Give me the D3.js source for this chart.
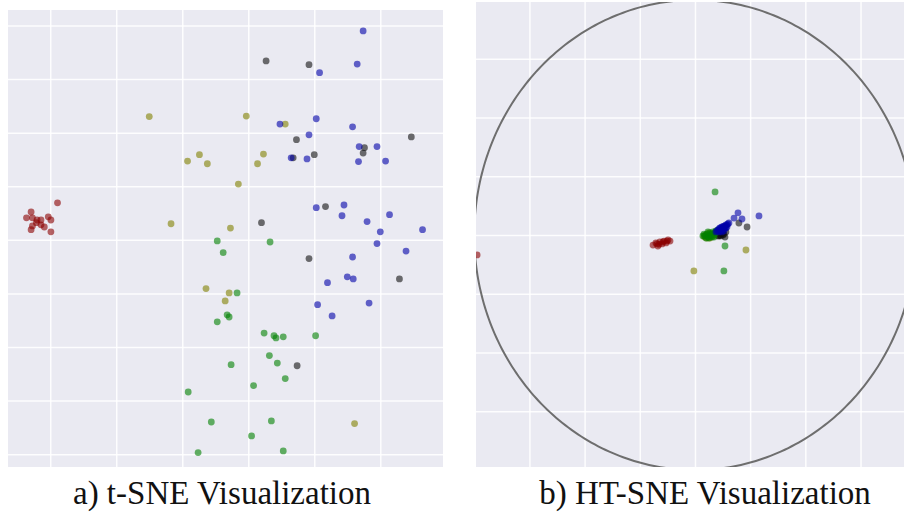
<!DOCTYPE html>
<html>
<head>
<meta charset="utf-8">
<script src="https://cdn.jsdelivr.net/npm/d3@7"></script>
<style>
  html, body { margin: 0; padding: 0; background: #ffffff; }
  svg { display: block; }
</style>
</head>
<body>
<svg id="chart" width="904" height="514"></svg>
<script>
// ---- t-SNE embedding (left panel), one array per class ----
const tsneRed = [
  [-28.9, 6.9], [-32.9, 5.2], [-33.6, 4.1], [-32.7, 4.1], [-32.0, 3.7], [-31.4, 3.7],
  [-30.3, 4.3], [-29.9, 3.7], [-32.7, 2.6], [-31.4, 2.8], [-30.9, 2.4], [-29.9, 1.5],
  [-32.9, 1.9], [-32.1, 3.2]
];
const tsneOlive = [
  [-15.0, 23.0], [-9.2, 14.7], [-7.4, 15.9], [-6.2, 14.2], [-11.7, 3.0], [-0.3, 23.1],
  [5.6, 21.6], [2.3, 16.0], [1.4, 14.2], [-1.5, 10.4], [-2.7, 2.2], [-6.4, -9.1],
  [-2.9, -9.9], [-3.5, -11.4], [16.1, -34.3]
];
const tsneGreen = [
  [-4.7, -0.2], [-3.8, -2.4], [3.3, -0.4], [-1.7, -9.9], [-3.2, -14.0], [-2.9, -14.4],
  [-4.7, -15.3], [2.4, -17.4], [3.9, -17.9], [4.2, -18.3], [5.3, -18.1], [10.2, -17.9],
  [3.2, -21.6], [4.4, -23.0], [-2.6, -23.3], [5.6, -25.9], [0.8, -27.2], [-9.1, -28.4],
  [-5.6, -34.0], [3.5, -33.8], [0.5, -36.6], [-7.6, -39.7], [5.3, -39.4]
];
const tsneBlue = [
  [17.4, 39.0], [10.8, 31.2], [16.5, 32.8], [4.8, 21.6], [10.3, 22.6], [15.8, 21.1],
  [9.2, 19.6], [16.8, 17.4], [19.5, 17.4], [6.5, 15.3], [8.9, 15.1], [16.7, 14.6],
  [20.8, 14.7], [10.3, 6.0], [14.5, 6.5], [14.2, 4.5], [18.0, 3.4], [21.4, 4.7],
  [20.0, 1.5], [26.4, 1.9], [19.5, -0.7], [23.9, -2.1], [15.8, -3.2], [15.0, -6.9],
  [15.9, -7.3], [12.0, -8.0], [10.5, -12.1], [18.3, -11.8], [12.7, -14.2]
];
const tsneGray = [
  [2.7, 33.4], [9.2, 32.7], [24.7, 19.2], [7.3, 18.7], [17.6, 17.2], [17.4, 16.2],
  [6.8, 15.3], [10.0, 15.9], [11.7, 6.2], [2.0, 3.2], [9.2, -3.5], [22.9, -7.3],
  [7.4, -23.5]
];

// ---- HT-SNE embedding in the Poincaré disk (right panel) ----
const htRed = [
  [-0.190, -0.043], [-0.177, -0.034], [-0.168, -0.047], [-0.159, -0.030], [-0.149, -0.038],
  [-0.140, -0.026], [-0.131, -0.034], [-0.122, -0.021], [-0.113, -0.026], [-0.172, -0.038],
  [-0.145, -0.030], [-0.127, -0.026], [-0.163, -0.040], [-0.987, -0.085]
];
const htOlive = [
  [0.231, -0.064], [-0.005, -0.153], [0.050, 0.000], [0.059, -0.004], [0.068, -0.009],
  [0.072, 0.004], [0.082, -0.004], [0.045, -0.009], [0.063, 0.009], [0.077, 0.000],
  [0.054, -0.013], [0.086, 0.004], [0.041, -0.004], [0.068, -0.013], [0.091, 0.009]
];
const htGreen = [
  [0.091, 0.183], [0.136, -0.047], [0.131, -0.153],
  [0.045, -0.004], [0.054, 0.004], [0.059, -0.009], [0.068, 0.009], [0.072, -0.004],
  [0.077, 0.004], [0.082, 0.013], [0.086, 0.000], [0.095, 0.017], [0.063, -0.013],
  [0.050, -0.013], [0.041, 0.004], [0.091, 0.009], [0.100, 0.013], [0.068, 0.000],
  [0.059, 0.013], [0.077, -0.009], [0.036, -0.004], [0.104, 0.021], [0.086, -0.009]
];
const htBlue = [
  [0.195, 0.094], [0.177, 0.072], [0.213, 0.068], [0.290, 0.081], [0.154, 0.051],
  [0.100, 0.017], [0.109, 0.026], [0.113, 0.017], [0.118, 0.030], [0.122, 0.021],
  [0.127, 0.034], [0.131, 0.026], [0.136, 0.038], [0.140, 0.030], [0.145, 0.043],
  [0.104, 0.021], [0.113, 0.030], [0.122, 0.034], [0.131, 0.038], [0.140, 0.043],
  [0.149, 0.047], [0.109, 0.013], [0.118, 0.021], [0.127, 0.026], [0.136, 0.030],
  [0.145, 0.034], [0.095, 0.013], [0.122, 0.013], [0.131, 0.017]
];
const htGray = [
  [0.199, 0.051], [0.236, 0.034], [0.136, -0.009], [0.118, -0.004], [0.127, 0.000],
  [0.109, -0.004], [0.122, 0.004], [0.113, 0.000], [0.131, 0.004], [0.118, 0.009],
  [0.104, -0.004], [0.127, 0.009], [0.140, 0.013]
];

const classColors = ["#8b0000", "#808000", "#008000", "#0000a8", "#111111"];

const tsneTicksX = [-30, -20, -10, 0, 10, 20];
const tsneTicksY = [-40, -30, -20, -10, 0, 10, 20, 30, 40];
const htTicks = [-0.75, -0.5, -0.25, 0, 0.25, 0.5, 0.75];

const captions = ["a) t-SNE Visualization", "b) HT-SNE Visualization"];

// ---- layout ----
const svg = d3.select("#chart");
const bg = "#eaeaf2";
const pointR = 3.4;
const pointAlpha = 0.6;
// gray is laid down first so the coloured clusters sit on top of it
const drawOrder = [4, 0, 1, 2, 3];

const panels = [
  {
    id: "tsne",
    x0: 8, x1: 443, y0: 10, y1: 467,
    xDomain: [-36.4, 29.5], yDomain: [-42.4, 42.9],
    ticksX: tsneTicksX, ticksY: tsneTicksY,
    groups: [tsneRed, tsneOlive, tsneGreen, tsneBlue, tsneGray],
    disk: false, caption: captions[0], capX: 222
  },
  {
    id: "htsne",
    x0: 476, x1: 904, y0: 2, y1: 467,
    xDomain: [-0.992, 0.947], yDomain: [-0.987, 0.991],
    ticksX: htTicks, ticksY: htTicks,
    groups: [htRed, htOlive, htGreen, htBlue, htGray],
    disk: true, caption: captions[1], capX: 705
  }
];

panels.forEach(p => {
  const x = d3.scaleLinear().domain(p.xDomain).range([p.x0, p.x1]);
  const y = d3.scaleLinear().domain(p.yDomain).range([p.y1, p.y0]);

  svg.append("clipPath").attr("id", "clip-" + p.id)
    .append("rect")
    .attr("x", p.x0).attr("y", p.y0)
    .attr("width", p.x1 - p.x0).attr("height", p.y1 - p.y0);

  const g = svg.append("g").attr("clip-path", `url(#clip-${p.id})`);

  g.append("rect")
    .attr("x", p.x0).attr("y", p.y0)
    .attr("width", p.x1 - p.x0).attr("height", p.y1 - p.y0)
    .attr("fill", bg);

  // white grid from the tick values
  const gx = d3.axisBottom(x).tickValues(p.ticksX).tickSize(-(p.y1 - p.y0)).tickFormat("");
  const gy = d3.axisLeft(y).tickValues(p.ticksY).tickSize(-(p.x1 - p.x0)).tickFormat("");
  const gridX = g.append("g").attr("transform", `translate(0,${p.y1})`).call(gx);
  const gridY = g.append("g").attr("transform", `translate(${p.x0},0)`).call(gy);
  [gridX, gridY].forEach(a => {
    a.select(".domain").remove();
    a.selectAll(".tick line").attr("stroke", "#ffffff").attr("stroke-width", 1.5).attr("stroke-opacity", 0.9);
  });

  // Poincaré disk boundary
  if (p.disk) {
    const ring = d3.range(0, 361, 1).map(a => [Math.cos(a * Math.PI / 180), Math.sin(a * Math.PI / 180)]);
    const line = d3.line().x(d => x(d[0])).y(d => y(d[1])).curve(d3.curveLinearClosed);
    g.append("path")
      .attr("d", line(ring))
      .attr("fill", "none")
      .attr("stroke", "#6e6e6e")
      .attr("stroke-width", 2);
  }

  drawOrder.forEach(ci => {
    g.append("g").selectAll("circle")
      .data(p.groups[ci])
      .join("circle")
      .attr("cx", d => x(d[0]))
      .attr("cy", d => y(d[1]))
      .attr("r", pointR)
      .attr("fill", classColors[ci])
      .attr("fill-opacity", pointAlpha);
  });

  svg.append("text")
    .attr("x", p.capX)
    .attr("y", 504)
    .attr("text-anchor", "middle")
    .attr("font-family", "'Liberation Serif', 'DejaVu Serif', serif")
    .attr("font-size", 33)
    .attr("fill", "#111")
    .text(p.caption);
});
</script>
</body>
</html>
